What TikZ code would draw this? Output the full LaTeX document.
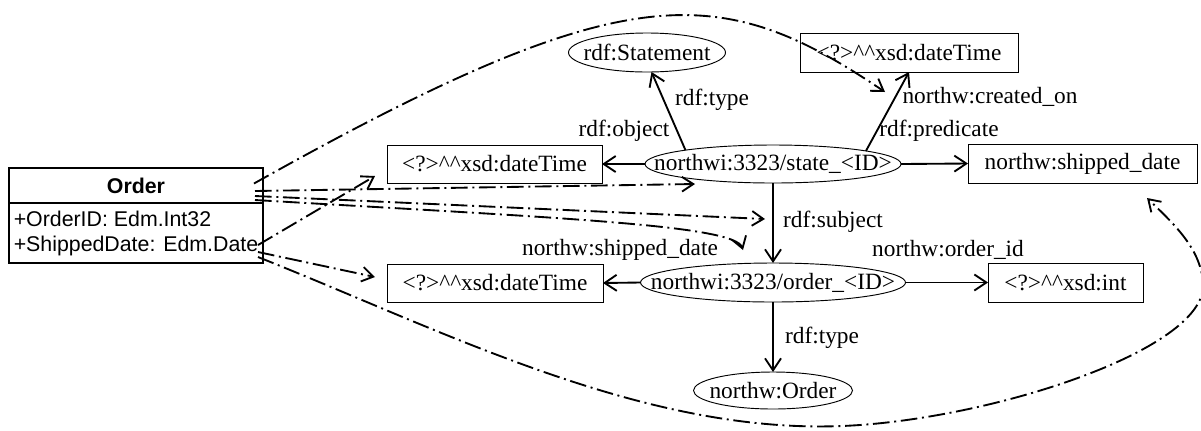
\documentclass[tikz,border=0pt]{standalone}
\usepackage{fontspec}
\setmainfont{Liberation Serif}
\setsansfont{Liberation Sans}
\usetikzlibrary{arrows.meta,shapes.geometric,calc}
\newdimen\pxu \pxu=0.75pt

\begin{document}
\begin{tikzpicture}[x=0.75pt,y=-0.75pt,
  every node/.style={inner sep=0pt, outer sep=0pt},
  lbl/.style={font=\fontsize{17.5}{20}\selectfont},
  res/.style n args={2}{ellipse, draw, line width=0.7pt,
    minimum width=#1\pxu, minimum height=#2\pxu},
  lit/.style n args={2}{rectangle, draw, line width=0.7pt,
    minimum width=#1\pxu, minimum height=#2\pxu, font=\fontsize{17.5}{20}\selectfont},
  cls/.style={rectangle, draw, line width=0.8pt, minimum width=254\pxu,
    font=\sffamily\fontsize{16}{18.75}\selectfont},
  rel/.style={line width=1.4pt, -{Straight Barb[length=9pt,width=12pt]}},
  map/.style={line width=1.4pt, dash pattern=on 12.5pt off 3.5pt on 1.5pt off 3.5pt,
    -{Straight Barb[length=8.5pt,width=11pt]}}
]
\useasboundingbox (0,0) rectangle (1201,430);
\fill[white] (0,0) rectangle (1201,430);

% UML class
\node[cls, minimum height=35\pxu, font=\sffamily\bfseries\fontsize{16}{18.75}\selectfont]
  (hdr) at (136,185.5) {Order};
\node[cls, anchor=north, minimum height=60\pxu, align=left]
  (attrs) at (hdr.south) {+OrderID: Edm.Int32\\+ShippedDate: Edm.Date};

% RDF resources (ellipses) and literals / properties (boxes)
\node[res={157}{39}, label={[lbl]center:{rdf:Statement}}] (stmt) at (647,52.5) {};
\node[lit={218}{39}] (dtTop) at (909,52.5) {\textless?\textgreater\textasciicircum\textasciicircum xsd:dateTime};
\node[lit={215}{38}] (dtL) at (494.5,164) {\textless?\textgreater\textasciicircum\textasciicircum xsd:dateTime};
\node[res={256}{38}, label={[lbl]center:{northwi:3323/state\_\textless ID\textgreater}}] (state) at (773,164) {};
\node[lit={229}{39}] (shipBox) at (1082.5,163.5) {northw:shipped\_date};
\node[lit={216}{38}] (dtB) at (495,283) {\textless?\textgreater\textasciicircum\textasciicircum xsd:dateTime};
\node[res={265}{39}, label={[lbl]center:{northwi:3323/order\_\textless ID\textgreater}}] (order) at (773,282.5) {};
\node[lit={155}{39}] (intBox) at (1065.5,282.5) {\textless?\textgreater\textasciicircum\textasciicircum xsd:int};
\node[res={159}{37}, label={[lbl]center:{northw:Order}}] (nOrder) at (773,390.5) {};

% property labels
\node[lbl] (tType1) at (712,100) {rdf:type};
\node[lbl] (tObj) at (624,131) {rdf:object};
\node[lbl] (tCreated) at (990,97) {northw:created\_on};
\node[lbl] (tPred) at (939,131) {rdf:predicate};
\node[lbl] (tSubj) at (833,222) {rdf:subject};
\node[lbl] (tShip) at (620,250) {northw:shipped\_date};
\node[lbl] (tOid) at (948,250) {northw:order\_id};
\node[lbl] (tType2) at (822,338) {rdf:type};

% RDF triples
\draw[rel] (state.171.6) -- (stmt.-77);
\draw[rel] (state.8.7) -- (dtTop.south);
\draw[rel] (state.west) -- (dtL.east);
\draw[rel] (state.east) -- (shipBox.west);
\draw[rel] (state.south) -- (order.north);
\draw[rel] (order.west) -- (dtB.east);
\draw[rel] (order.east) -- (intBox.west);
\draw[rel] (order.south) -- (nOrder.north);

% mapping end points
\coordinate (sTop) at ($(hdr.east)+(-9,-2)$);
\coordinate (sA) at ($(hdr.east)+(-8,5.5)$);
\coordinate (sB) at ($(hdr.east)+(-8,10.5)$);
\coordinate (sC) at ($(hdr.east)+(-8,14.5)$);
\coordinate (sD) at ($(attrs.east)+(-5,12)$);
\coordinate (sE) at ($(attrs.east)+(-5,19)$);
\coordinate (sF) at ($(attrs.east)+(-5,24)$);
\coordinate (eTop) at (885,92);
\coordinate (eA) at (695,184);
\coordinate (eB) at (765,219);
\coordinate (eC) at (743,250);
\coordinate (eD) at (375,176);
\coordinate (eE) at (375,277);
\coordinate (eF) at (1147,198);

% class-to-RDF mappings
\draw[map] (sTop) .. controls (626,-25) and (719,-20) .. (eTop);
\draw[map] (sA) -- (eA);
\draw[map] (sB) -- (eB);
\draw[map] (sC) .. controls (560,218) and (735,225) .. (eC);
\draw[map] (sD) -- (eD);
\draw[map] (sE) -- (eE);
\draw[map] (sF) .. controls (444,331) and (642,434) .. (842,426)
  .. controls (990,420) and (1205,350) .. (1203,285)
  .. controls (1202,250) and (1175,225) .. (eF);
\end{tikzpicture}
\end{document}
